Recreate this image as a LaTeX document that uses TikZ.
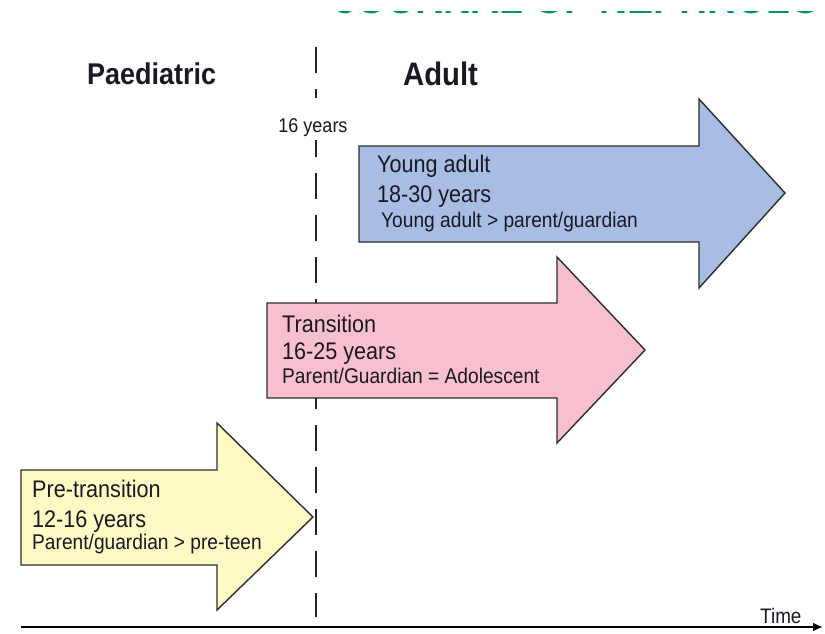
\documentclass[tikz,border=0pt]{standalone}
\usepackage{fontspec}
\setmainfont{Liberation Sans}
\newfontfamily\nsans[FakeStretch=0.9]{Liberation Sans}
\usetikzlibrary{arrows.meta}
\definecolor{yfill}{RGB}{255,250,195}
\definecolor{pfill}{RGB}{248,192,206}
\definecolor{bfill}{RGB}{168,188,228}
\definecolor{edge}{RGB}{45,45,45}
\definecolor{jgreen}{RGB}{0,150,90}
\definecolor{txt}{RGB}{25,25,35}
\tikzset{
  headtxt/.style={font=\nsans\bfseries\fontsize{30}{34}\selectfont, anchor=base west, inner sep=0, text=txt},
  bigtxt/.style={font=\nsans\fontsize{24}{28}\selectfont, anchor=base west, inner sep=0, text=txt},
  smalltxt/.style={font=\nsans\fontsize{21.3}{25}\selectfont, anchor=base west, inner sep=0, text=txt},
  arrowbox/.style={draw=edge, line width=1.4, line join=miter},
  dashline/.style={draw=black!85, line width=2, dash pattern=on 26 off 16},
}
\begin{document}
\begin{tikzpicture}[x=1pt,y=-1pt]
\useasboundingbox (0,0) rectangle (825,633);
% clipped journal header (only the lower edge of the letters shows)
\begin{scope}
\clip (320,10.5) rectangle (825,16);
\node[font=\bfseries\fontsize{39}{44}\selectfont, text=jgreen, anchor=base west, inner sep=0] (journal) at (335,13.5) {JOURNAL OF NEPHROLOGY};
\end{scope}
\fill[white] (315,-20) rectangle (830,10.5);
% headings
\node[headtxt] (paed) at (87,84) {Paediatric};
\node[headtxt, font=\nsans\bfseries\fontsize{32.5}{36}\selectfont] (adult) at (403,85) {Adult};
% dashed divider
\coordinate (dtop) at (316,47);
\coordinate (dbot) at (316,617);
\draw[dashline] (dtop) -- (dbot);
\node[font=\nsans\fontsize{20}{24}\selectfont, text=txt, fill=white, anchor=base, inner xsep=1, inner ysep=0, text height=34, text depth=8] (sixteen) at (313,132) {16 years};
% arrows
\draw[arrowbox, fill=yfill] (21,470) -- (217,470) -- (217,423) -- (313,517) -- (217,610) -- (217,565) -- (21,565) -- cycle;
\draw[arrowbox, fill=pfill] (267,303) -- (557,303) -- (557,257) -- (645,350) -- (557,443) -- (557,398) -- (267,398) -- cycle;
\draw[arrowbox, fill=bfill] (359,146) -- (699,146) -- (699,99) -- (785,193) -- (699,288) -- (699,242) -- (359,242) -- cycle;
% texts
\node[bigtxt] (pre1) at (32,497) {Pre-transition};
\node[bigtxt] (pre2) at (32,527) {12-16 years};
\node[smalltxt] (pre3) at (32,549) {Parent/guardian > pre-teen};
\node[bigtxt] (tr1) at (282,332) {Transition};
\node[bigtxt] (tr2) at (282,359) {16-25 years};
\node[smalltxt] (tr3) at (282,383) {Parent/Guardian = Adolescent};
\node[bigtxt] (ya1) at (377,172) {Young adult};
\node[bigtxt] (ya2) at (377,202) {18-30 years};
\node[smalltxt] (ya3) at (381,227) {Young adult > parent/guardian};
% time axis
\coordinate (tstart) at (21,627);
\coordinate (tend) at (823,627);
\draw[line width=2, -{Latex[length=10,width=9]}] (tstart) -- (tend);
\node[font=\nsans\fontsize{21}{25}\selectfont, text=txt, anchor=base west, inner sep=0] (time) at (760,623) {Time};
\end{tikzpicture}
\end{document}
